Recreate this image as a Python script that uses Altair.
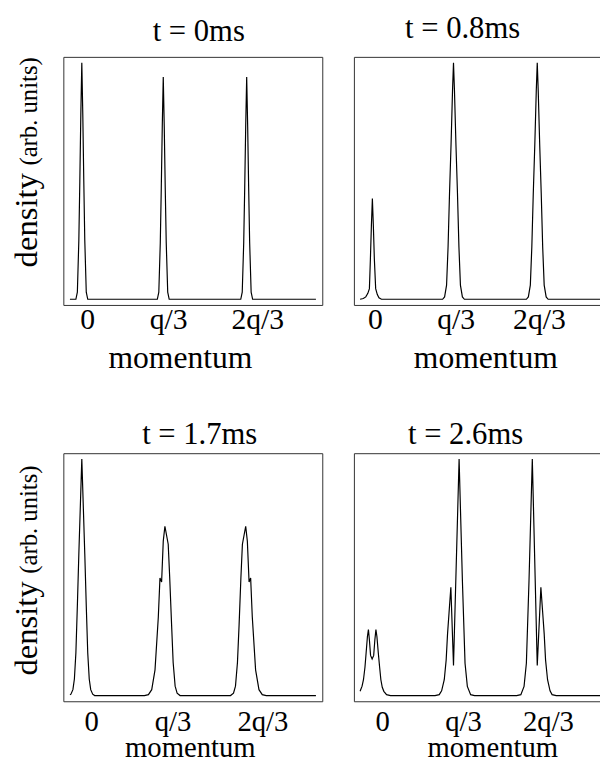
import altair as alt
import pandas as pd

# momentum in units of q/3 (0 -> 0, q/3 -> 1, 2q/3 -> 2); density normalised (arb. units)
t00_points = [
    (-0.144, 0.0), (-0.072, 0.0), (-0.054, 0.03), (-0.036, 0.25), (-0.024, 0.5), (-0.012, 0.78),
    (0.0, 1.0), (0.012, 0.78), (0.024, 0.5), (0.036, 0.25), (0.054, 0.03), (0.072, 0.0),
    (0.916, 0.0), (0.934, 0.03), (0.952, 0.24), (0.964, 0.47), (0.976, 0.73), (0.988, 0.94),
    (1.000, 0.73), (1.012, 0.47), (1.024, 0.24), (1.042, 0.03), (1.060, 0.0),
    (1.928, 0.0), (1.946, 0.03), (1.964, 0.24), (1.976, 0.47), (1.988, 0.73), (2.0, 0.94),
    (2.012, 0.73), (2.024, 0.47), (2.036, 0.24), (2.054, 0.03), (2.072, 0.0), (2.84, 0.0),
]
t08_points = [
    (-0.149, 0.0), (-0.11, 0.003), (-0.08, 0.01), (-0.055, 0.025), (-0.036, 0.045), (-0.024, 0.17),
    (-0.012, 0.31), (0.0, 0.426), (0.012, 0.31), (0.024, 0.17), (0.04, 0.045), (0.06, 0.02),
    (0.08, 0.006), (0.11, 0.0),
    (0.852, 0.0), (0.876, 0.01), (0.900, 0.06), (0.918, 0.22), (0.936, 0.45), (0.954, 0.65),
    (0.972, 0.88), (0.984, 1.0), (0.996, 0.88), (1.014, 0.65), (1.032, 0.45), (1.050, 0.22),
    (1.068, 0.06), (1.092, 0.01), (1.116, 0.0),
    (1.868, 0.0), (1.892, 0.01), (1.916, 0.06), (1.934, 0.22), (1.952, 0.45), (1.970, 0.65),
    (1.988, 0.88), (2.0, 1.0), (2.012, 0.88), (2.030, 0.65), (2.048, 0.45), (2.066, 0.22),
    (2.084, 0.06), (2.108, 0.01), (2.132, 0.0), (2.84, 0.0),
]
t17_points = [
    (-0.144, 0.004), (-0.132, 0.006), (-0.108, 0.025), (-0.09, 0.07), (-0.072, 0.18), (-0.054, 0.38),
    (-0.036, 0.6), (-0.018, 0.8), (0.0, 1.0), (0.018, 0.8), (0.036, 0.6), (0.054, 0.38),
    (0.072, 0.18), (0.09, 0.07), (0.108, 0.025), (0.132, 0.006), (0.156, 0.0),
    (0.760, 0.0), (0.808, 0.004), (0.848, 0.025), (0.888, 0.109), (0.928, 0.332), (0.948, 0.497),
    (0.968, 0.48), (0.988, 0.653), (1.008, 0.716), (1.048, 0.64), (1.066, 0.5), (1.089, 0.3),
    (1.108, 0.14), (1.132, 0.04), (1.156, 0.01), (1.192, 0.0),
    (1.804, 0.0), (1.840, 0.01), (1.864, 0.04), (1.888, 0.14), (1.908, 0.3), (1.930, 0.5),
    (1.948, 0.64), (1.988, 0.716), (2.008, 0.653), (2.029, 0.48), (2.048, 0.497), (2.068, 0.332),
    (2.108, 0.109), (2.149, 0.025), (2.189, 0.004), (2.237, 0.0), (2.84, 0.0),
]
t26_points = [
    (-0.149, 0.018), (-0.125, 0.04), (-0.108, 0.067), (-0.09, 0.12), (-0.076, 0.18), (-0.06, 0.25),
    (-0.048, 0.279), (-0.036, 0.235), (-0.022, 0.17), (-0.003, 0.155), (0.016, 0.17), (0.03, 0.235),
    (0.043, 0.279), (0.055, 0.25), (0.072, 0.18), (0.088, 0.12), (0.103, 0.067), (0.12, 0.035),
    (0.139, 0.018), (0.172, 0.004), (0.22, 0.0),
    (0.76, 0.0), (0.811, 0.004), (0.84, 0.02), (0.872, 0.067), (0.895, 0.15), (0.912, 0.262),
    (0.93, 0.35), (0.952, 0.458), (0.984, 0.127), (1.052, 1.0), (1.092, 0.486), (1.124, 0.137),
    (1.152, 0.039), (1.192, 0.004), (1.24, 0.0),
    (1.75, 0.0), (1.801, 0.004), (1.840, 0.039), (1.868, 0.137), (1.900, 0.486), (1.940, 1.0),
    (2.0, 0.127), (2.044, 0.458), (2.066, 0.35), (2.084, 0.262), (2.101, 0.15), (2.125, 0.067),
    (2.155, 0.02), (2.180, 0.004), (2.23, 0.0), (2.84, 0.0),
]

panel_titles = ["t = 0ms", "t = 0.8ms", "t = 1.7ms", "t = 2.6ms"]
tick_text = ["0", "q/3", "2q/3"]
# label centres (in q/3 units) as placed in each panel
tick_pos_t00 = [0.064, 1.048, 2.128]
tick_pos_t08 = [0.03, 1.01, 2.02]
tick_pos_t17 = [0.114, 1.10, 2.19]
tick_pos_t26 = [0.118, 1.10, 2.13]
ylabel_main = ["density"]
ylabel_sub = ["(arb. units)"]

FONT = "Liberation Serif"
FRAME = "#333333"
X_DOMAIN = [-0.224, 2.917]
Y_DOMAIN = [-0.024, 1.025]
W, H = 262, 251
LABEL_EXPR = ("datum.value < 0.5 ? '%s' : datum.value < 1.5 ? '%s' : '%s'" % tuple(tick_text))


def panel(points, title, ticks, title_x, title_y, label_pad, label_size, mt_x, mt_y, mt_size,
          ylab=None):
    df = pd.DataFrame(points, columns=["momentum", "density"])
    line = alt.Chart(df).mark_line(color="black", strokeWidth=1.2, clip=True).encode(
        x=alt.X("momentum:Q",
                scale=alt.Scale(domain=X_DOMAIN, nice=False, zero=False),
                axis=alt.Axis(values=ticks, labelExpr=LABEL_EXPR, ticks=False, tickSize=0,
                              domain=False, grid=False, labelFont=FONT, labelFontSize=label_size,
                              labelColor="black", labelBaseline="alphabetic",
                              labelPadding=label_pad, labelFlush=False, labelOverlap=False,
                              title="momentum", titleFont=FONT, titleFontSize=mt_size,
                              titleFontWeight="normal", titleColor="black", titleX=mt_x,
                              titleY=mt_y, titleBaseline="alphabetic", titleAlign="center")),
        y=alt.Y("density:Q", scale=alt.Scale(domain=Y_DOMAIN, nice=False, zero=False), axis=None),
    )
    ttl = alt.Chart(pd.DataFrame({"t": [title]})).mark_text(
        font=FONT, fontSize=31, align="center", baseline="alphabetic", color="black"
    ).encode(x=alt.value(title_x), y=alt.value(title_y), text="t:N")
    layers = [line, ttl]
    if ylab is not None:
        yx, y_main, y_sub = ylab
        main = alt.Chart(pd.DataFrame({"t": ylabel_main})).mark_text(
            font=FONT, fontSize=33, align="left", baseline="alphabetic", angle=270, color="black"
        ).encode(x=alt.value(yx), y=alt.value(y_main), text="t:N")
        sub = alt.Chart(pd.DataFrame({"t": ylabel_sub})).mark_text(
            font=FONT, fontSize=25, align="left", baseline="alphabetic", angle=270, color="black"
        ).encode(x=alt.value(yx), y=alt.value(y_sub), text="t:N")
        layers += [main, sub]
    return alt.layer(*layers).properties(width=W, height=H)


tl = panel(t00_points, panel_titles[0], tick_pos_t00, 137, -16, 24, 30, 118, 63, 32,
           ylab=(-27, 213, 110))
tr = panel(t08_points, panel_titles[1], tick_pos_t08, 110, -19, 24, 30, 133, 63, 32)
bl = panel(t17_points, panel_titles[2], tick_pos_t17, 138, -9, 30, 29, 128, 56, 29,
           ylab=(-27, 225, 122))
br = panel(t26_points, panel_titles[3], tick_pos_t26, 113, -9, 30, 29, 140, 56, 29)

# the right-hand column runs past the page edge, as in the original figure
chart = alt.concat(
    tl, tr, bl, br, columns=2, spacing={"row": 150, "column": 32}, bounds="flush"
).configure_view(stroke=FRAME, strokeWidth=1).properties(
    padding={"left": 2, "top": 0, "right": -14, "bottom": -6}, background="white"
)

chart.save("out.html", embed_options={"renderer": "svg", "actions": False})
